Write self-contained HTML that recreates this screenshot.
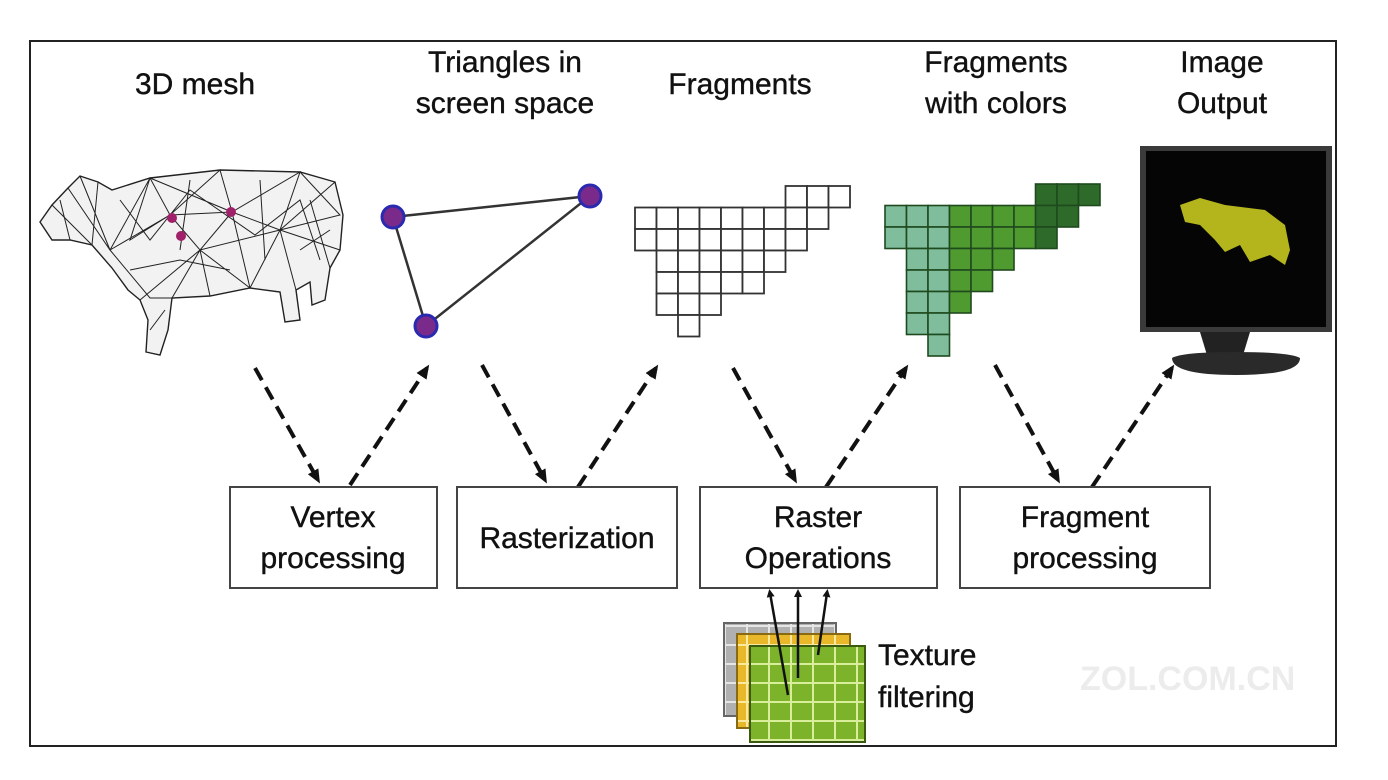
<!DOCTYPE html>
<html><head><style>
body{margin:0;background:#fff;}
svg{display:block;font-family:"Liberation Sans",sans-serif;}
</style></head><body>
<svg width="1388" height="780" viewBox="0 0 1388 780">
<defs>
<marker id="ah" markerWidth="8" markerHeight="8" refX="4" refY="4" orient="auto" markerUnits="userSpaceOnUse"><path d="M0,0 L8,4 L0,8 Z" fill="#111"/></marker>
<marker id="ah2" markerWidth="14" markerHeight="14" refX="10" refY="7" orient="auto" markerUnits="userSpaceOnUse"><path d="M0,1 L14,7 L0,13 Z" fill="#111"/></marker>
<pattern id="tg" width="22" height="19" patternUnits="userSpaceOnUse"><rect width="22" height="19" fill="#7cb32b"/><path d="M21,0V19M0,18H22" stroke="#d8ee9a" stroke-width="2"/></pattern>
<pattern id="yg" width="22" height="19" patternUnits="userSpaceOnUse"><rect width="22" height="19" fill="#e8b82a"/><path d="M21,0V19M0,18H22" stroke="#fbe9a0" stroke-width="2"/></pattern>
<pattern id="gg" width="22" height="19" patternUnits="userSpaceOnUse"><rect width="22" height="19" fill="#b0b0b0"/><path d="M21,0V19M0,18H22" stroke="#e6e6e6" stroke-width="2"/></pattern>
</defs>
<rect x="30" y="41" width="1306" height="705" fill="#fff" stroke="#222" stroke-width="2"/>

<g font-size="30" fill="#111" text-anchor="middle" stroke="#111" stroke-width="0.4">
<text x="195" y="94">3D mesh</text>
<text x="505" y="72">Triangles in</text><text x="505" y="113">screen space</text>
<text x="740" y="94">Fragments</text>
<text x="996" y="72">Fragments</text><text x="996" y="113">with colors</text>
<text x="1222" y="72">Image</text><text x="1222" y="113">Output</text>
</g>

<!-- cow -->
<g stroke="#222" stroke-width="1.4" fill="#f2f2f2">
<path d="M40,222 L52,205 L68,188 L80,176 L98,182 L112,190 L150,178 L220,170 L300,172 L335,182 L343,215 L340,250 L330,268 L325,300 L312,305 L310,282 L296,290 L300,320 L285,322 L280,292 L250,288 L210,296 L172,298 L168,330 L160,355 L146,352 L148,320 L140,300 L128,290 L112,268 L92,245 L70,240 L52,240 Z"/>
<path d="M68,188 L110,250 L150,178 L170,215 L220,170 L232,212 L300,172 L280,230 L335,182 M110,250 L170,215 L232,212 L280,230 L340,250 M110,250 L150,298 L172,298 L200,250 L232,212 M200,250 L250,288 L280,230 L296,290 M170,215 L200,250 L280,230 M52,205 L92,245 M140,300 L200,250 M80,176 L110,250 M232,212 L250,288 M150,178 L232,212 M150,178 L130,240 L170,215 M300,172 L340,215 L280,230 M200,250 L210,296 M60,200 L70,240 M98,182 L92,245 M120,200 L150,240 L190,190 L255,235 L300,200 L320,260 M130,270 L180,260 L230,270 M260,180 L265,260 M310,200 L330,268 M190,180 L180,250 M150,330 L165,310 M300,250 L330,230" fill="none" stroke-width="1"/>
</g>
<g fill="#a0206a"><circle cx="172" cy="218" r="5"/><circle cx="231" cy="212" r="5"/><circle cx="181" cy="236" r="5"/></g>

<!-- triangle -->
<polygon points="393,217 590,196 426,326" fill="none" stroke="#333" stroke-width="2.5"/>
<g fill="#7a2a8a" stroke="#2a2ab0" stroke-width="3"><circle cx="393" cy="217" r="11"/><circle cx="590" cy="196" r="11"/><circle cx="426" cy="326" r="11"/></g>

<!-- white fragments -->
<g fill="#fff" stroke="#333" stroke-width="1.8">
<rect x="785.5" y="186" width="21.5" height="21.5"/><rect x="807" y="186" width="21.5" height="21.5"/><rect x="828.5" y="186" width="21.5" height="21.5"/>
<rect x="635" y="207.5" width="21.5" height="21.5"/><rect x="656.5" y="207.5" width="21.5" height="21.5"/><rect x="678" y="207.5" width="21.5" height="21.5"/><rect x="699.5" y="207.5" width="21.5" height="21.5"/><rect x="721" y="207.5" width="21.5" height="21.5"/><rect x="742.5" y="207.5" width="21.5" height="21.5"/><rect x="764" y="207.5" width="21.5" height="21.5"/><rect x="785.5" y="207.5" width="21.5" height="21.5"/><rect x="807" y="207.5" width="21.5" height="21.5"/>
<rect x="635" y="229" width="21.5" height="21.5"/><rect x="656.5" y="229" width="21.5" height="21.5"/><rect x="678" y="229" width="21.5" height="21.5"/><rect x="699.5" y="229" width="21.5" height="21.5"/><rect x="721" y="229" width="21.5" height="21.5"/><rect x="742.5" y="229" width="21.5" height="21.5"/><rect x="764" y="229" width="21.5" height="21.5"/><rect x="785.5" y="229" width="21.5" height="21.5"/>
<rect x="656.5" y="250.5" width="21.5" height="21.5"/><rect x="678" y="250.5" width="21.5" height="21.5"/><rect x="699.5" y="250.5" width="21.5" height="21.5"/><rect x="721" y="250.5" width="21.5" height="21.5"/><rect x="742.5" y="250.5" width="21.5" height="21.5"/><rect x="764" y="250.5" width="21.5" height="21.5"/>
<rect x="656.5" y="272" width="21.5" height="21.5"/><rect x="678" y="272" width="21.5" height="21.5"/><rect x="699.5" y="272" width="21.5" height="21.5"/><rect x="721" y="272" width="21.5" height="21.5"/><rect x="742.5" y="272" width="21.5" height="21.5"/>
<rect x="656.5" y="293.5" width="21.5" height="21.5"/><rect x="678" y="293.5" width="21.5" height="21.5"/><rect x="699.5" y="293.5" width="21.5" height="21.5"/>
<rect x="678" y="315" width="21.5" height="21.5"/>
</g>

<!-- colored fragments -->
<g stroke="#1e4a1e" stroke-width="1.6">
<g fill="#2e6b2b">
<rect x="1035.5" y="184" width="21.5" height="21.5"/><rect x="1057" y="184" width="21.5" height="21.5"/><rect x="1078.5" y="184" width="21.5" height="21.5"/>
<rect x="1035.5" y="205.5" width="21.5" height="21.5"/><rect x="1057" y="205.5" width="21.5" height="21.5"/>
<rect x="1035.5" y="227" width="21.5" height="21.5"/>
</g>
<g fill="#80bd9d">
<rect x="885" y="205.5" width="21.5" height="21.5"/><rect x="906.5" y="205.5" width="21.5" height="21.5"/><rect x="928" y="205.5" width="21.5" height="21.5"/>
<rect x="885" y="227" width="21.5" height="21.5"/><rect x="906.5" y="227" width="21.5" height="21.5"/><rect x="928" y="227" width="21.5" height="21.5"/>
<rect x="906.5" y="248.5" width="21.5" height="21.5"/><rect x="928" y="248.5" width="21.5" height="21.5"/>
<rect x="906.5" y="270" width="21.5" height="21.5"/><rect x="928" y="270" width="21.5" height="21.5"/>
<rect x="906.5" y="291.5" width="21.5" height="21.5"/><rect x="928" y="291.5" width="21.5" height="21.5"/>
<rect x="906.5" y="313" width="21.5" height="21.5"/><rect x="928" y="313" width="21.5" height="21.5"/>
<rect x="928" y="334.5" width="21.5" height="21.5"/>
</g>
<g fill="#4f9b2f">
<rect x="949.5" y="205.5" width="21.5" height="21.5"/><rect x="971" y="205.5" width="21.5" height="21.5"/><rect x="992.5" y="205.5" width="21.5" height="21.5"/><rect x="1014" y="205.5" width="21.5" height="21.5"/>
<rect x="949.5" y="227" width="21.5" height="21.5"/><rect x="971" y="227" width="21.5" height="21.5"/><rect x="992.5" y="227" width="21.5" height="21.5"/><rect x="1014" y="227" width="21.5" height="21.5"/>
<rect x="949.5" y="248.5" width="21.5" height="21.5"/><rect x="971" y="248.5" width="21.5" height="21.5"/><rect x="992.5" y="248.5" width="21.5" height="21.5"/>
<rect x="949.5" y="270" width="21.5" height="21.5"/><rect x="971" y="270" width="21.5" height="21.5"/>
<rect x="949.5" y="291.5" width="21.5" height="21.5"/>
</g>
</g>

<!-- monitor -->
<rect x="1140" y="146" width="192" height="186" fill="#3a3a3a"/>
<rect x="1146" y="151" width="180" height="176" fill="#050505"/>
<path d="M1180,205 L1200,198 L1225,205 L1265,210 L1285,225 L1290,250 L1285,265 L1270,255 L1250,262 L1240,245 L1225,252 L1215,240 L1200,225 L1185,222 Z" fill="#c8c820" opacity="0.9"/>
<path d="M1200,332 L1210,365 L1240,365 L1250,332 Z" fill="#222"/>
<path d="M1172,358 Q1172,375 1236,375 Q1300,375 1300,358 Q1290,352 1236,352 Q1182,352 1172,358Z" fill="#2a2a2a"/>

<!-- dashed arrows -->
<g stroke="#111" stroke-width="4" stroke-dasharray="14 8" marker-end="url(#ah2)" fill="none">
<line x1="255" y1="368" x2="318" y2="480"/>
<line x1="350" y1="485" x2="427" y2="368"/>
<line x1="482" y1="365" x2="545" y2="480"/>
<line x1="578" y1="487" x2="656" y2="368"/>
<line x1="733" y1="368" x2="795" y2="480"/>
<line x1="826" y1="487" x2="906" y2="368"/>
<line x1="995" y1="365" x2="1058" y2="480"/>
<line x1="1092" y1="487" x2="1172" y2="368"/>
</g>

<!-- boxes -->
<g fill="#fff" stroke="#444" stroke-width="2">
<rect x="230" y="487" width="207" height="101"/>
<rect x="457" y="487" width="220" height="101"/>
<rect x="700" y="487" width="237" height="101"/>
<rect x="960" y="487" width="250" height="101"/>
</g>
<g font-size="30" fill="#111" text-anchor="middle" stroke="#111" stroke-width="0.4">
<text x="333" y="527">Vertex</text><text x="333" y="568">processing</text>
<text x="567" y="548">Rasterization</text>
<text x="818" y="527">Raster</text><text x="818" y="568">Operations</text>
<text x="1085" y="527">Fragment</text><text x="1085" y="568">processing</text>
</g>

<!-- texture -->
<rect x="724" y="623" width="112" height="93" fill="url(#gg)" stroke="#666" stroke-width="2"/>
<rect x="737" y="634" width="113" height="94" fill="url(#yg)" stroke="#8a6a10" stroke-width="2"/>
<rect x="750" y="646" width="115" height="96" fill="url(#tg)" stroke="#3a5a10" stroke-width="2"/>
<g stroke="#111" stroke-width="2.5" marker-end="url(#ah)">
<line x1="788" y1="695" x2="770" y2="593"/>
<line x1="798" y1="678" x2="798" y2="593"/>
<line x1="818" y1="655" x2="827" y2="593"/>
</g>
<g font-size="30" fill="#111" stroke="#111" stroke-width="0.4"><text x="878" y="665">Texture</text><text x="878" y="707">filtering</text></g>
<g font-size="34" fill="#ececec" font-weight="bold"><text x="1080" y="690">ZOL.COM.CN</text></g>
</svg>
</body></html>
